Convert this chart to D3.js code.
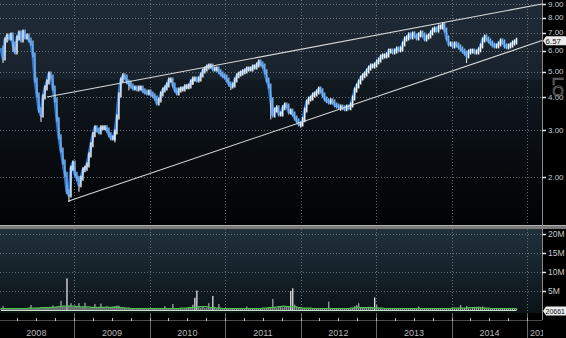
<!DOCTYPE html>
<html>
<head>
<meta charset="utf-8">
<script src="https://cdn.jsdelivr.net/npm/d3@7"></script>
<style>
  body { margin: 0; background: #000; }
  svg { display: block; }
  text { font-family: "Liberation Sans", Arial, sans-serif; }
</style>
</head>
<body>
<div id="chart"></div>
<script>
//define SVG size
var svgWidth = 566;
var svgHeight = 338;

//panel geometry
var plotRight = 542;
var priceTop = 0, priceBottom = 225;
var volTop = 229, volBottom = 310, volPanelBottom = 313;
var axisY = 320;

//closing prices, one sample roughly every 9.7 days from mid Jan 2008
var closes = [
  6.14, 5.63, 6.58, 6.82, 6.70, 6.88, 6.36, 5.93, 6.70, 7.00,
  6.58, 7.06, 6.76, 6.82, 6.58, 6.41, 5.78, 4.65, 4.08, 3.58,
  3.43, 4.01, 4.34, 4.57, 4.90, 4.77, 4.34, 3.91, 3.29, 2.84,
  2.53, 2.28, 2.05, 1.76, 1.71, 2.16, 2.26, 2.05, 1.98, 1.87,
  1.98, 2.13, 2.16, 2.22, 2.42, 2.65, 2.89, 3.07, 3.01, 2.96,
  3.07, 3.07, 3.07, 3.01, 2.89, 2.81, 2.81, 2.96, 3.37, 4.08,
  4.65, 4.82, 4.77, 4.57, 4.53, 4.41, 4.34, 4.34, 4.30, 4.34,
  4.34, 4.23, 4.19, 4.15, 4.19, 4.12, 4.05, 3.98, 3.81, 3.91,
  4.12, 4.26, 4.34, 4.45, 4.65, 4.65, 4.45, 4.26, 4.15, 4.26,
  4.30, 4.30, 4.38, 4.38, 4.41, 4.57, 4.69, 4.69, 4.65, 4.69,
  4.86, 5.03, 5.12, 5.21, 5.25, 5.25, 5.12, 5.12, 5.12, 4.99,
  4.90, 4.82, 4.77, 4.65, 4.49, 4.41, 4.45, 4.65, 4.82, 4.90,
  4.94, 4.99, 5.03, 5.12, 5.12, 5.12, 5.21, 5.21, 5.30, 5.44,
  5.34, 5.25, 4.99, 4.65, 4.41, 3.91, 3.43, 3.58, 3.65, 3.46,
  3.46, 3.65, 3.74, 3.71, 3.52, 3.55, 3.46, 3.34, 3.26, 3.17,
  3.17, 3.29, 3.58, 3.84, 3.94, 3.98, 4.08, 4.12, 4.19, 4.30,
  4.23, 4.08, 3.94, 3.88, 3.84, 3.88, 3.84, 3.74, 3.71, 3.68,
  3.68, 3.65, 3.62, 3.68, 3.65, 3.74, 3.98, 4.26, 4.41, 4.57,
  4.73, 4.82, 4.90, 5.03, 5.16, 5.25, 5.25, 5.30, 5.44, 5.53,
  5.68, 5.73, 5.73, 5.78, 5.98, 5.98, 5.93, 5.98, 6.09, 6.04,
  6.09, 6.36, 6.64, 6.70, 6.88, 6.76, 6.94, 6.82, 6.70, 6.88,
  7.00, 6.88, 6.64, 6.76, 6.82, 7.00, 7.18, 7.24, 7.18, 7.37,
  7.37, 7.50, 7.18, 6.70, 6.36, 6.36, 6.25, 6.36, 6.30, 6.20,
  6.09, 5.98, 5.88, 5.73, 5.93, 5.98, 5.98, 5.93, 5.93, 6.04,
  6.25, 6.58, 6.76, 6.64, 6.53, 6.41, 6.30, 6.25, 6.25, 6.36,
  6.53, 6.47, 6.25, 6.20, 6.25, 6.30, 6.41, 6.47, 6.57
];

//volume in millions of shares, same samples as closes
var volumes = [
  0.5, 1.0, 0.4, 0.4, 0.5, 0.3, 0.4, 0.4, 0.5, 0.4,
  0.4, 0.3, 0.4, 0.5, 0.4, 1.3, 0.4, 0.5, 0.6, 0.5,
  0.5, 0.6, 0.5, 0.6, 0.7, 0.6, 1.2, 0.7, 0.8, 0.7,
  2.4, 1.0, 0.9, 8.3, 1.1, 1.8, 0.9, 1.0, 0.8, 1.8,
  0.7, 0.8, 1.9, 0.7, 0.6, 0.8, 0.7, 1.6, 0.6, 0.7,
  1.7, 0.6, 0.5, 0.7, 0.6, 0.8, 0.9, 1.0, 1.2, 1.1,
  0.7, 0.5, 0.6, 0.4, 0.5, 0.4, 0.4, 0.5, 0.4, 0.4,
  0.4, 0.3, 0.4, 0.5, 0.4, 0.3, 0.4, 0.4, 0.3, 0.4,
  0.4, 0.5, 1.0, 0.4, 0.4, 0.5, 1.6, 0.5, 0.4, 0.4,
  0.4, 0.3, 0.4, 0.5, 0.6, 0.8, 1.4, 3.2, 5.1, 0.9,
  0.6, 1.0, 0.5, 0.6, 1.8, 0.7, 3.7, 0.6, 0.5, 1.6,
  0.5, 0.4, 0.4, 0.3, 0.4, 0.4, 0.3, 0.4, 0.4, 0.3,
  0.4, 0.4, 0.4, 0.9, 0.4, 0.3, 0.4, 0.4, 0.5, 0.4,
  0.4, 0.5, 0.4, 0.5, 0.6, 0.7, 2.9, 0.8, 0.6, 1.0,
  1.0, 0.7, 0.8, 0.9, 1.0, 5.0, 5.7, 1.4, 0.8, 0.6,
  0.6, 0.5, 0.5, 0.4, 0.5, 0.4, 0.4, 0.5, 0.4, 0.4,
  0.4, 0.5, 0.4, 0.4, 2.2, 0.5, 0.4, 0.4, 0.3, 0.4,
  0.4, 0.3, 0.4, 0.4, 0.5, 0.4, 0.6, 1.0, 1.3, 1.8,
  0.7, 0.6, 0.5, 0.5, 0.6, 0.5, 0.6, 3.3, 1.3, 0.6,
  0.5, 0.4, 0.4, 0.5, 0.4, 0.4, 0.3, 0.4, 0.4, 0.3,
  0.4, 0.4, 0.3, 0.4, 0.4, 0.3, 0.4, 0.4, 0.5, 0.9,
  0.4, 0.4, 0.5, 0.4, 0.3, 0.4, 0.4, 0.5, 0.4, 0.4,
  0.5, 0.4, 0.4, 0.5, 0.4, 0.4, 0.5, 0.4, 0.4, 0.5,
  1.3, 0.5, 0.6, 1.0, 0.5, 0.4, 0.5, 0.6, 0.8, 0.9,
  0.8, 0.9, 0.6, 0.5, 0.4, 0.4, 0.5, 0.4, 0.4, 0.3,
  0.4, 0.4, 0.3, 0.4, 0.4, 0.3, 0.4, 0.3, 0.4
];

//intraday extremes that stick out of the band: [sample index, price]
var wicks = [[1, 5.39], [20, 3.23], [34, 1.61], [39, 1.76], [115, 4.26],
  [150, 3.07], [233, 5.39], [221, 7.63], [7, 6.20], [57, 2.70],
  [6, 5.95], [64, 4.25], [96, 4.45], [135, 3.30], [170, 3.55]];

//sampling of the series
var startDate = new Date(2008, 0, 13);
var stepHours = 232;

//axis values
var priceTicks = [2, 3, 4, 5, 6, 7, 8, 9];
var volTicks = [5, 10, 15, 20];
var volTickLabels = ["5M", "10M", "15M", "20M"];
var years = [2008, 2009, 2010, 2011, 2012, 2013, 2014, 2015];

//trend channel: [date, price]
var upperTrend = [[new Date(2008, 7, 22), 4.01], [new Date(2015, 2, 14), 9.0]];
var lowerTrend = [[new Date(2008, 11, 2), 1.62], [new Date(2015, 2, 14), 6.55]];

var lastPrice = "6.57";
var lastVolume = "20661";

var svg = d3.select("#chart")
  .append("svg")
  .attr("width", svgWidth)
  .attr("height", svgHeight);

var defs = svg.append("defs");

//price panel background gradient
var pg = defs.append("linearGradient").attr("id", "priceBg")
  .attr("x1", 0).attr("y1", 0).attr("x2", 0).attr("y2", 1);
[["0%", "#1f2b37"], ["35%", "#18222c"], ["35.6%", "#111920"], ["62%", "#0a0f14"], ["100%", "#010203"]]
  .forEach(s => pg.append("stop").attr("offset", s[0]).attr("stop-color", s[1]));

//volume panel background gradient
var vg = defs.append("linearGradient").attr("id", "volBg")
  .attr("x1", 0).attr("y1", 0).attr("x2", 0).attr("y2", 1);
[["0%", "#20313c"], ["100%", "#0b1317"]]
  .forEach(s => vg.append("stop").attr("offset", s[0]).attr("stop-color", s[1]));

defs.append("clipPath").attr("id", "priceClip")
  .append("rect").attr("x", 0).attr("y", priceTop).attr("width", plotRight).attr("height", priceBottom - priceTop);
defs.append("clipPath").attr("id", "volClip")
  .append("rect").attr("x", 0).attr("y", volTop).attr("width", plotRight).attr("height", volPanelBottom - volTop);
defs.append("clipPath").attr("id", "axisClip")
  .append("rect").attr("x", 0).attr("y", volPanelBottom).attr("width", plotRight + 1).attr("height", svgHeight - volPanelBottom);

//black page
svg.append("rect").attr("width", svgWidth).attr("height", svgHeight).attr("fill", "#000");

//panels
svg.append("rect").attr("x", 0).attr("y", priceTop).attr("width", plotRight).attr("height", priceBottom - priceTop)
  .attr("fill", "url(#priceBg)");
svg.append("rect").attr("x", 0).attr("y", volTop).attr("width", plotRight).attr("height", volPanelBottom - volTop)
  .attr("fill", "url(#volBg)");

//separator bar between panels
svg.append("rect").attr("x", 0).attr("y", priceBottom).attr("width", svgWidth).attr("height", volTop - priceBottom)
  .attr("fill", "#7a7a7a");
svg.append("line").attr("x1", 0).attr("x2", svgWidth).attr("y1", priceBottom + 0.5).attr("y2", priceBottom + 0.5)
  .attr("stroke", "#b0b0b0");

//scales
var x = d3.scaleTime()
  .domain([new Date(2008, 0, 8), new Date(2015, 2, 14)])
  .range([0, plotRight]);

var y = d3.scaleLog()
  .domain([1.318, 9.32])
  .range([priceBottom, priceTop]);

var yVol = d3.scaleLinear()
  .domain([0, 21])
  .range([volBottom, volBottom - 80]);

var data = closes.map(function(c, i) {
  return {
    date: d3.timeHour.offset(startDate, i * stepHours),
    close: c,
    prev: i ? closes[i - 1] : c,
    vol: volumes[i]
  };
});

//running median of volume for the green line
var volAvg = data.map(function(d, i) {
  return { date: d.date, v: d3.median(volumes.slice(Math.max(0, i - 6), i + 7)) };
});

var gridColor = "#7d8893";

//horizontal grid, price panel
svg.append("g").selectAll("line")
  .data(priceTicks)
  .enter()
  .append("line")
  .attr("x1", 0).attr("x2", plotRight)
  .attr("y1", d => Math.round(y(d)) + 0.5).attr("y2", d => Math.round(y(d)) + 0.5)
  .attr("stroke", gridColor).attr("stroke-opacity", 0.75)
  .attr("stroke-dasharray", "1,2");

//horizontal grid, volume panel
svg.append("g").selectAll("line")
  .data(volTicks)
  .enter()
  .append("line")
  .attr("x1", 0).attr("x2", plotRight)
  .attr("y1", d => Math.round(yVol(d)) + 0.5).attr("y2", d => Math.round(yVol(d)) + 0.5)
  .attr("stroke", gridColor).attr("stroke-opacity", 0.7)
  .attr("stroke-dasharray", "1,2");

//vertical year grid
var yearStarts = years.slice(1).map(yr => new Date(yr, 0, 1));
var vGrid = svg.append("g");
vGrid.selectAll("line.p")
  .data(yearStarts)
  .enter()
  .append("line")
  .attr("x1", d => Math.round(x(d)) + 0.5).attr("x2", d => Math.round(x(d)) + 0.5)
  .attr("y1", priceTop).attr("y2", priceBottom)
  .attr("stroke", gridColor).attr("stroke-opacity", 0.75)
  .attr("stroke-dasharray", "1,2");
vGrid.selectAll("line.v")
  .data(yearStarts)
  .enter()
  .append("line")
  .attr("x1", d => Math.round(x(d)) + 0.5).attr("x2", d => Math.round(x(d)) + 0.5)
  .attr("y1", volTop).attr("y2", volPanelBottom)
  .attr("stroke", gridColor).attr("stroke-opacity", 0.75)
  .attr("stroke-dasharray", "1,2");
vGrid.selectAll("line.a")
  .data(yearStarts)
  .enter()
  .append("line")
  .attr("x1", d => Math.round(x(d)) + 0.5).attr("x2", d => Math.round(x(d)) + 0.5)
  .attr("y1", volPanelBottom).attr("y2", svgHeight)
  .attr("stroke", "#6a6a6a");

//price series
var priceGroup = svg.append("g").attr("clip-path", "url(#priceClip)");

priceGroup.append("path")
  .datum(data)
  .attr("fill", "none")
  .attr("stroke", "#3579cc")
  .attr("stroke-width", 3.2)
  .attr("stroke-linejoin", "round")
  .attr("d", d3.line().x(d => x(d.date)).y(d => y(d.close)));

priceGroup.selectAll("line.wick")
  .data(wicks)
  .enter()
  .append("line")
  .attr("x1", d => x(data[d[0]].date)).attr("x2", d => x(data[d[0]].date))
  .attr("y1", d => y(data[d[0]].close)).attr("y2", d => y(d[1]))
  .attr("stroke", "#e8f0ff").attr("stroke-width", 1);

priceGroup.selectAll("line.bar")
  .data(data.slice(1))
  .enter()
  .append("line")
  .attr("x1", d => x(d.date)).attr("x2", d => x(d.date))
  .attr("y1", d => y(d.prev) + (d.close >= d.prev ? 2.5 : -2.5))
  .attr("y2", d => y(d.close) + (d.close >= d.prev ? -2.5 : 2.5))
  .attr("stroke", d => d.close >= d.prev ? "#f2f6fb" : "#7ab4f2")
  .attr("stroke-width", 1.4);

//trend channel
var trendLine = d3.line().x(d => x(d[0])).y(d => y(d[1]));
svg.append("g").selectAll("path")
  .data([upperTrend, lowerTrend])
  .enter()
  .append("path")
  .attr("d", trendLine)
  .attr("fill", "none")
  .attr("stroke", "#d8d8d8")
  .attr("stroke-width", 1.1);

//volume bars
var volGroup = svg.append("g").attr("clip-path", "url(#volClip)");
volGroup.selectAll("rect")
  .data(data)
  .enter()
  .append("rect")
  .attr("x", d => x(d.date) - 0.6)
  .attr("width", 1.2)
  .attr("y", d => yVol(d.vol))
  .attr("height", d => volBottom - yVol(d.vol))
  .attr("fill", d => d.vol > 3 ? "#f4f4f4" : "#a9adb0");

volGroup.append("line")
  .attr("x1", x(data[0].date)).attr("x2", x(data[data.length - 1].date))
  .attr("y1", volBottom + 0.5).attr("y2", volBottom + 0.5)
  .attr("stroke", "#c9e6c9").attr("stroke-width", 1);

volGroup.append("path")
  .datum(volAvg)
  .attr("fill", "none")
  .attr("stroke", "#4fc24f")
  .attr("stroke-width", 1.2)
  .attr("d", d3.line().x(d => x(d.date)).y(d => yVol(d.v)));

//bottom time axis
var axisG = svg.append("g");
axisG.append("line")
  .attr("x1", 0).attr("x2", plotRight)
  .attr("y1", axisY + 0.5).attr("y2", axisY + 0.5)
  .attr("stroke", "#4a4a4a");
axisG.selectAll("line.q")
  .data(x.ticks(d3.timeMonth.every(3)))
  .enter()
  .append("line")
  .attr("x1", d => Math.round(x(d)) + 0.5).attr("x2", d => Math.round(x(d)) + 0.5)
  .attr("y1", axisY - 2).attr("y2", axisY + 1)
  .attr("stroke", "#bdbdbd");

var labelG = svg.append("g").attr("clip-path", "url(#axisClip)");
labelG.selectAll("text")
  .data(years)
  .enter()
  .append("text")
  .attr("x", d => d < 2015 ? (x(new Date(d, 0, 1)) + x(new Date(d + 1, 0, 1))) / 2 : x(new Date(d, 0, 1)) + 3)
  .attr("y", 336)
  .attr("text-anchor", d => d < 2015 ? "middle" : "start")
  .attr("font-size", 9)
  .attr("fill", "#b8b8b8")
  .text(d => d);

//right axis line
svg.append("line")
  .attr("x1", plotRight + 0.5).attr("x2", plotRight + 0.5)
  .attr("y1", 0).attr("y2", axisY)
  .attr("stroke", "#8a8a8a");

//price labels
var rightG = svg.append("g");
rightG.selectAll("line.pt")
  .data(priceTicks)
  .enter()
  .append("line")
  .attr("x1", plotRight).attr("x2", plotRight + 4)
  .attr("y1", d => Math.round(y(d)) + 0.5).attr("y2", d => Math.round(y(d)) + 0.5)
  .attr("stroke", "#e0e0e0").attr("stroke-width", 1.5);
rightG.selectAll("text.pt")
  .data(priceTicks)
  .enter()
  .append("text")
  .attr("x", plotRight + 6)
  .attr("y", d => y(d) + 2.5)
  .attr("font-size", 8)
  .attr("fill", "#c8c8c8")
  .text(d => d3.format(".2f")(d));

//volume labels
rightG.selectAll("line.vt")
  .data(volTicks)
  .enter()
  .append("line")
  .attr("x1", plotRight).attr("x2", plotRight + 4)
  .attr("y1", d => Math.round(yVol(d)) + 0.5).attr("y2", d => Math.round(yVol(d)) + 0.5)
  .attr("stroke", "#e0e0e0").attr("stroke-width", 1.5);
rightG.selectAll("text.vt")
  .data(volTicks)
  .enter()
  .append("text")
  .attr("x", plotRight + 6)
  .attr("y", d => yVol(d) + 3)
  .attr("font-size", 8.5)
  .attr("fill", "#c8c8c8")
  .text((d, i) => volTickLabels[i]);

//LOG marker, rotated
svg.append("text")
  .attr("transform", "translate(553, 77) rotate(90)")
  .attr("font-size", 15)
  .attr("fill", "none")
  .attr("stroke", "#6b6b6b")
  .attr("stroke-width", 0.8)
  .text("LO");

//last value tags
function lastTag(yPos, label, size) {
  var g = svg.append("g");
  g.append("path")
    .attr("d", `M${plotRight + 1},${yPos} L${plotRight + 4},${yPos - 4.5} L${svgWidth},${yPos - 4.5} L${svgWidth},${yPos + 4.5} L${plotRight + 4},${yPos + 4.5} Z`)
    .attr("fill", "#ececec");
  g.append("text")
    .attr("x", plotRight + 3.5)
    .attr("y", yPos + 3)
    .attr("font-size", size)
    .attr("fill", "#111")
    .text(label);
}
lastTag(y(+lastPrice) + 0.5, lastPrice, 8);
lastTag(yVol(0.02) + 1, lastVolume, 7);
</script>
</body>
</html>
